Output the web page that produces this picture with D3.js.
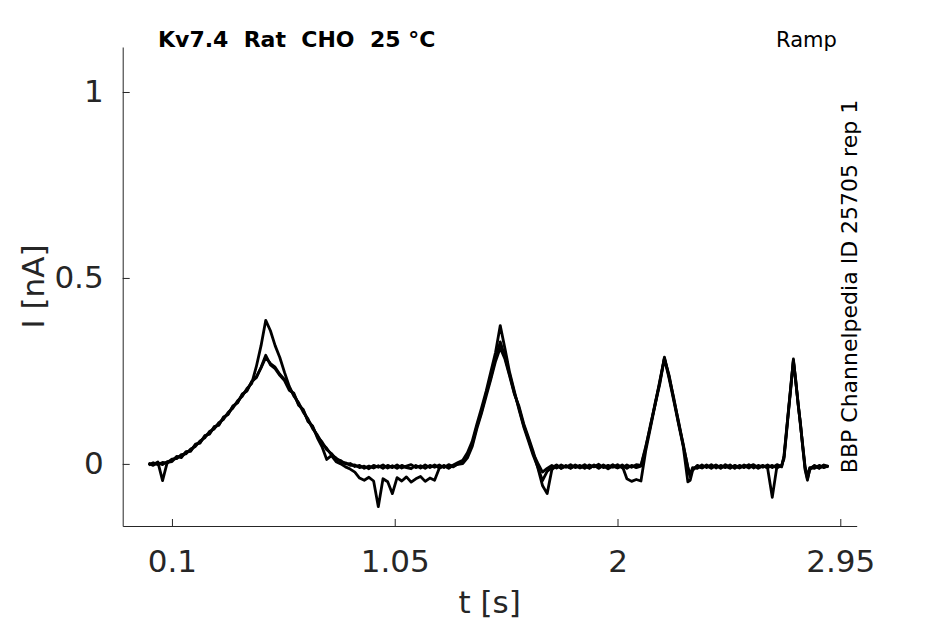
<!DOCTYPE html>
<html>
<head>
<meta charset="utf-8">
<script src="https://cdn.jsdelivr.net/npm/d3@7"></script>
<style>
  body { margin: 0; background: #fff; }
  text { font-family: "DejaVu Sans", sans-serif; }
</style>
</head>
<body>
<div id="chart"></div>
<script>
// sampling times [s], shared by all sweeps
const times = [
  0.00,0.02,0.04,0.06,0.08,0.10,0.12,0.14,0.16,0.18,
  0.20,0.22,0.24,0.26,0.28,0.30,0.32,0.34,0.36,0.38,
  0.40,0.42,0.44,0.46,0.48,0.50,0.52,0.54,0.56,0.58,
  0.60,0.62,0.64,0.66,0.68,0.70,0.72,0.74,0.76,0.78,
  0.80,0.82,0.84,0.86,0.88,0.90,0.92,0.94,0.96,0.98,
  1.00,1.02,1.04,1.06,1.08,1.10,1.12,1.14,1.16,1.18,
  1.20,1.22,1.24,1.26,1.28,1.30,1.32,1.34,1.36,1.38,
  1.40,1.42,1.44,1.46,1.48,1.50,1.52,1.54,1.56,1.58,
  1.60,1.62,1.64,1.66,1.68,1.70,1.72,1.74,1.76,1.78,
  1.80,1.82,1.84,1.86,1.88,1.90,1.92,1.94,1.96,1.98,
  2.00,2.02,2.04,2.06,2.08,2.10,2.12,2.14,2.16,2.18,
  2.20,2.22,2.24,2.26,2.28,2.30,2.31,2.32,2.34,2.36,
  2.38,2.40,2.42,2.44,2.46,2.48,2.50,2.52,2.54,2.56,
  2.58,2.60,2.62,2.64,2.66,2.68,2.70,2.71,2.72,2.73,
  2.74,2.75,2.76,2.77,2.78,2.79,2.80,2.81,2.82,2.84,
  2.86,2.88,2.90
];

// current [nA], one array per sweep
const sweepA = [
  -0.003,0.003,-0.002,0.004,0.002,0.013,0.014,0.025,0.027,0.040,
  0.047,0.062,0.070,0.087,0.094,0.111,0.120,0.139,0.150,0.170,
  0.182,0.203,0.216,0.262,0.318,0.386,0.358,0.318,0.286,0.246,
  0.209,0.182,0.165,0.139,0.121,0.095,0.078,0.055,0.042,0.024,
  0.016,0.005,0.003,-0.004,-0.003,-0.010,-0.006,-0.013,-0.004,-0.009,
  -0.003,-0.011,-0.005,-0.012,-0.004,-0.010,-0.013,-0.004,-0.011,-0.003,
  -0.010,-0.003,-0.011,-0.004,-0.012,-0.003,0.004,0.010,0.030,0.060,
  0.106,0.150,0.196,0.248,0.300,0.372,0.310,0.246,0.196,0.146,
  0.100,0.062,0.024,-0.008,-0.045,-0.020,-0.010,-0.003,-0.012,-0.004,
  -0.011,-0.003,-0.009,-0.002,-0.011,-0.004,-0.012,-0.003,-0.010,-0.002,
  -0.010,-0.003,-0.012,-0.004,-0.010,-0.006,0.042,0.104,0.158,0.222,
  0.283,0.238,0.173,0.115,0.050,-0.008,-0.030,-0.010,-0.012,-0.003,
  -0.010,-0.002,-0.011,-0.004,-0.010,-0.003,-0.012,-0.004,-0.010,-0.002,
  -0.011,-0.004,-0.009,-0.003,-0.010,-0.002,-0.008,0.022,0.087,0.148,
  0.217,0.276,0.220,0.166,0.104,0.050,-0.008,-0.034,-0.010,-0.012,
  -0.004,-0.010,-0.005
];

const sweepB = [
  0.002,-0.004,0.003,-0.002,0.006,0.009,0.018,0.020,0.031,0.036,
  0.051,0.058,0.074,0.082,0.098,0.106,0.124,0.135,0.154,0.166,
  0.186,0.198,0.220,0.234,0.258,0.286,0.270,0.260,0.241,0.227,
  0.203,0.186,0.161,0.143,0.117,0.099,0.074,0.059,0.038,0.028,
  0.013,0.009,0.000,0.001,-0.007,-0.004,-0.012,-0.006,-0.011,-0.005,
  -0.012,-0.004,-0.010,-0.003,-0.011,-0.006,-0.002,-0.010,-0.005,-0.012,
  -0.004,-0.009,-0.003,-0.010,-0.002,-0.008,0.000,0.003,0.022,0.052,
  0.100,0.140,0.190,0.233,0.284,0.328,0.288,0.240,0.191,0.150,
  0.103,0.068,0.028,0.002,-0.022,-0.012,-0.004,-0.011,-0.003,-0.009,
  -0.002,-0.010,-0.004,-0.012,-0.003,-0.008,-0.001,-0.010,-0.004,-0.009,
  -0.002,-0.011,-0.003,-0.009,-0.002,-0.004,0.046,0.100,0.162,0.218,
  0.287,0.234,0.177,0.111,0.054,-0.012,-0.035,-0.014,-0.006,-0.011,
  -0.003,-0.010,-0.004,-0.012,-0.002,-0.009,-0.005,-0.011,-0.003,-0.008,
  -0.002,-0.010,-0.004,-0.011,-0.090,-0.006,-0.005,0.018,0.083,0.152,
  0.213,0.282,0.224,0.162,0.108,0.046,-0.012,-0.040,-0.016,-0.004,
  -0.011,-0.003,-0.008
];

const sweepC = [
  0.001,-0.002,0.005,-0.045,0.004,0.006,0.020,0.017,0.033,0.034,
  0.053,0.056,0.076,0.080,0.100,0.104,0.126,0.133,0.156,0.164,
  0.188,0.196,0.222,0.232,0.260,0.292,0.266,0.256,0.238,0.224,
  0.198,0.190,0.158,0.146,0.114,0.102,0.070,0.046,0.012,0.022,
  0.006,0.000,-0.008,-0.014,-0.022,-0.038,-0.044,-0.036,-0.046,-0.115,
  -0.040,-0.048,-0.080,-0.037,-0.046,-0.035,-0.049,-0.040,-0.034,-0.047,
  -0.038,-0.044,-0.012,-0.005,-0.010,-0.004,-0.001,0.001,0.016,0.046,
  0.094,0.136,0.182,0.228,0.276,0.312,0.282,0.236,0.188,0.155,
  0.108,0.072,0.034,-0.010,-0.058,-0.080,-0.016,-0.004,-0.012,-0.006,
  -0.012,-0.005,-0.011,-0.006,-0.012,-0.003,-0.010,-0.005,-0.013,-0.006,
  -0.011,-0.005,-0.040,-0.047,-0.042,-0.046,0.034,0.096,0.158,0.214,
  0.284,0.230,0.170,0.108,0.048,-0.048,-0.044,-0.018,-0.004,-0.010,
  -0.005,-0.012,-0.003,-0.010,-0.006,-0.012,-0.004,-0.010,-0.005,-0.011,
  -0.004,-0.012,-0.005,-0.010,-0.004,-0.011,-0.004,0.014,0.079,0.146,
  0.209,0.279,0.226,0.160,0.110,0.044,-0.016,-0.044,-0.012,-0.006,
  -0.012,-0.004,-0.007
];

const xTicks = [0.1, 1.05, 2, 2.95];
const yTicks = [0, 0.5, 1];
const titleText = "Kv7.4  Rat  CHO  25 °C";
const protocolText = "Ramp";
const sourceText = "BBP Channelpedia ID 25705 rep 1";

const width = 945,
    height = 624,
    margin = ({ top: 47, right: 88.3, bottom: 98, left: 122.7 });

const ink = "#262626";

const svg = d3.select("#chart")
    .append("svg")
    .attr("width", width)
    .attr("height", height)
    .attr("viewBox", [0, 0, width, height]);

let x = d3.scaleLinear()
    .domain([-0.11, 3.02])
    .range([margin.left, width - margin.right]);

let y = d3.scaleLinear()
    .domain([-0.167, 1.121])
    .range([height - margin.bottom, margin.top]);

// traces
const sweeps = [sweepA, sweepB, sweepC];
const line = d3.line()
    .x((d, i) => x(times[i]))
    .y(d => y(d));

svg.append("g")
    .attr("fill", "none")
    .attr("stroke", "black")
    .attr("stroke-width", 2.8)
    .attr("stroke-linejoin", "round")
    .selectAll("path")
    .data(sweeps)
    .join("path")
    .attr("d", line);

// axes, ticks pointing inward like matlab
const xAxis = svg.append("g")
    .attr("transform", `translate(0,${height - margin.bottom})`)
    .call(d3.axisBottom(x).tickValues(xTicks).tickFormat(d3.format("")).tickSizeInner(-7).tickSizeOuter(0).tickPadding(24));

const yAxis = svg.append("g")
    .attr("transform", `translate(${margin.left},0)`)
    .call(d3.axisLeft(y).tickValues(yTicks).tickFormat(d3.format("")).tickSizeInner(-7).tickSizeOuter(0).tickPadding(19));

for (const g of [xAxis, yAxis]) {
    g.select(".domain").attr("stroke", ink);
    g.selectAll(".tick line").attr("stroke", ink);
    g.selectAll(".tick text")
        .attr("fill", ink)
        .style("font-family", "DejaVu Sans")
        .style("font-size", "31px");
}

// axis labels
svg.append("text")
    .attr("x", (margin.left + width - margin.right) / 2)
    .attr("y", 613)
    .attr("text-anchor", "middle")
    .attr("fill", ink)
    .style("font-size", "31px")
    .text("t [s]");

svg.append("text")
    .attr("transform", `translate(44,${(margin.top + height - margin.bottom) / 2}) rotate(-90)`)
    .attr("text-anchor", "middle")
    .attr("fill", ink)
    .style("font-size", "31px")
    .text("I [nA]");

// annotations
svg.append("text")
    .attr("x", 158)
    .attr("y", 47)
    .attr("fill", "black")
    .style("font-size", "22px")
    .style("font-weight", "bold")
    .style("white-space", "pre")
    .text(titleText);

svg.append("text")
    .attr("x", 776)
    .attr("y", 47)
    .attr("fill", "black")
    .style("font-size", "21px")
    .text(protocolText);

svg.append("text")
    .attr("transform", `translate(857,${(margin.top + height - margin.bottom) / 2}) rotate(-90)`)
    .attr("text-anchor", "middle")
    .attr("fill", "black")
    .style("font-size", "22px")
    .text(sourceText);
</script>
</body>
</html>
